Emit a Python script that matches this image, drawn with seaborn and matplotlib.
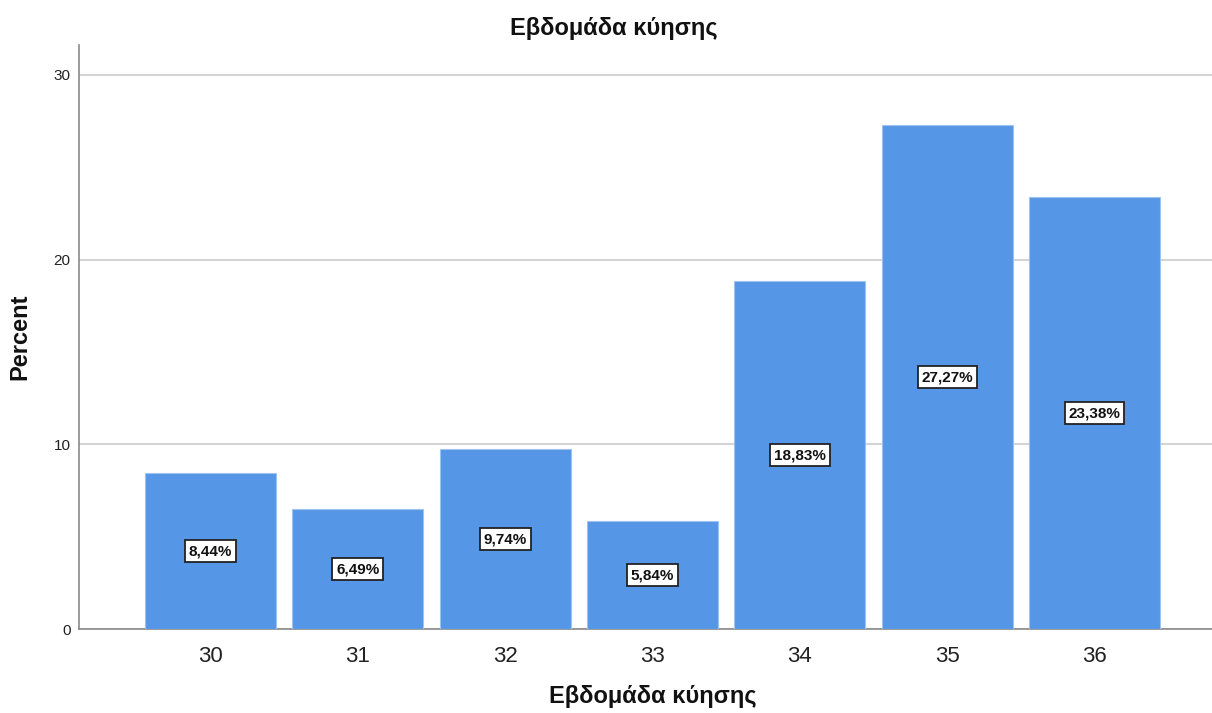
import matplotlib
matplotlib.use("Agg")
import matplotlib.pyplot as plt
import seaborn as sns
import pandas as pd

weeks = ["30", "31", "32", "33", "34", "35", "36"]
percent = [8.44, 6.49, 9.74, 5.84, 18.83, 27.27, 23.38]
y_ticks = [0, 10, 20, 30]

sns.set_theme(style="white")
plt.rcParams["font.family"] = ["Liberation Sans", "DejaVu Sans"]

df = pd.DataFrame({"week": weeks, "percent": percent})

fig = plt.figure(figsize=(12.12, 7.13), dpi=100)
ax = fig.add_axes([0.0652, 0.1178, 0.9348, 0.8191])

sns.barplot(data=df, x="week", y="percent", color="#5596E6", saturation=1,
            width=0.89, edgecolor="#9EC3F0", linewidth=0.8, ax=ax, zorder=3)

ax.set_ylim(0, 31.62)
ax.set_xlim(-0.8925, 6.797)
ax.set_yticks(y_ticks)
ax.set_yticklabels([str(t) for t in y_ticks])
ax.tick_params(axis="x", labelsize=16, colors="#222222", length=0, pad=12)
ax.tick_params(axis="y", labelsize=11, colors="#222222", length=0, pad=6)

ax.yaxis.grid(True, color="#D4D4D4", linewidth=1.5, zorder=0)
ax.set_axisbelow(True)
for side in ("top", "right"):
    ax.spines[side].set_visible(False)
for side in ("left", "bottom"):
    ax.spines[side].set_color("#8A8A8A")
    ax.spines[side].set_linewidth(1.2)

ax.set_xlabel("Εβδομάδα κύησης", fontsize=17, fontweight="bold", color="#111111")
ax.xaxis.set_label_coords(0.506, -0.1164)
ax.xaxis.label.set_va("center")
ax.set_ylabel("Percent", fontsize=17, fontweight="bold", color="#111111")
ax.yaxis.set_label_coords(-0.052, 0.5)
ax.yaxis.label.set_va("center")
ax.yaxis.label.set_ha("center")

fig.text(0.506, 0.9607, "Εβδομάδα κύησης", fontsize=17, fontweight="bold",
         color="#111111", ha="center", va="center")

for i, v in enumerate(percent):
    txt = f"{v:.2f}".replace(".", ",") + "%"
    ax.text(i, v / 2, txt, ha="center", va="center", fontsize=11,
            fontweight="bold", color="#111111", zorder=5,
            bbox=dict(boxstyle="square,pad=0.25", facecolor="white",
                      edgecolor="#222222", linewidth=1.3))

fig.savefig("out.png", dpi=100)
